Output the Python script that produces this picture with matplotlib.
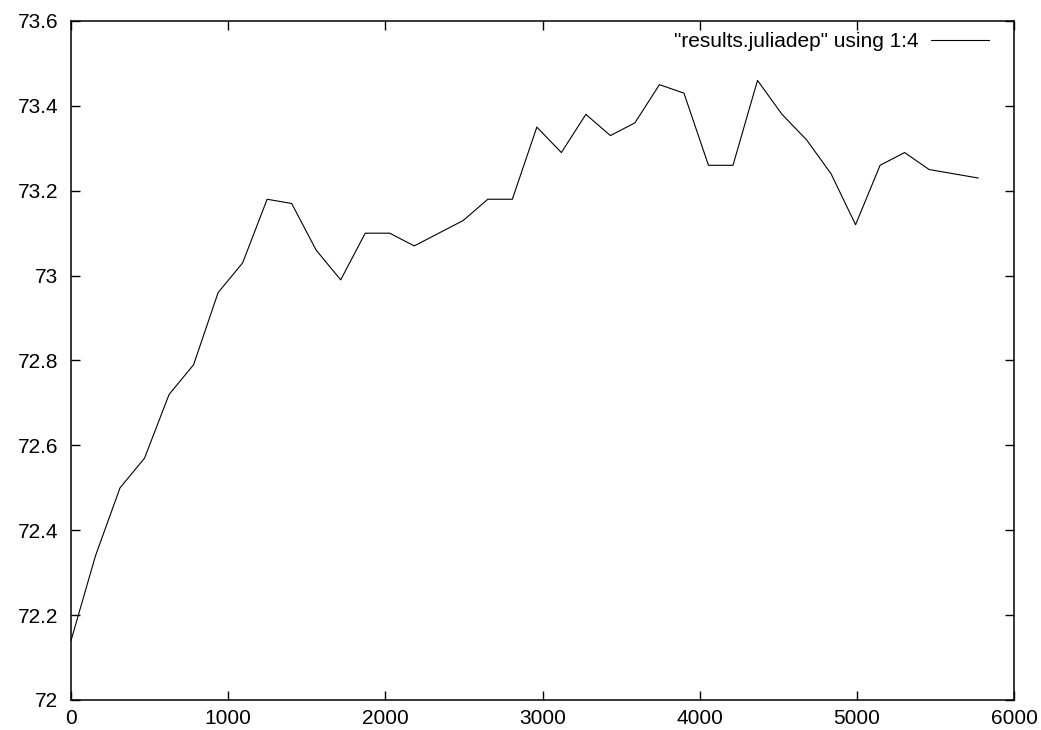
import matplotlib
matplotlib.use("Agg")
import matplotlib.pyplot as plt

# Column 1 (iteration) and column 4 (score) of results.juliadep
iterations = [0, 156, 312, 468, 624, 780, 936, 1092, 1248, 1404, 1560, 1716,
              1872, 2028, 2184, 2340, 2496, 2652, 2808, 2964, 3120, 3276,
              3432, 3588, 3744, 3900, 4056, 4212, 4368, 4524, 4680, 4836,
              4992, 5148, 5304, 5460, 5772]
scores = [72.14, 72.34, 72.50, 72.57, 72.72, 72.79, 72.96, 73.03, 73.18,
          73.17, 73.06, 72.99, 73.10, 73.10, 73.07, 73.10, 73.13, 73.18,
          73.18, 73.35, 73.29, 73.38, 73.33, 73.36, 73.45, 73.43, 73.26,
          73.26, 73.46, 73.38, 73.32, 73.24, 73.12, 73.26, 73.29, 73.25,
          73.23]
series_label = '"results.juliadep" using 1:4'

x_ticks = [0, 1000, 2000, 3000, 4000, 5000, 6000]
y_ticks = [72, 72.2, 72.4, 72.6, 72.8, 73, 73.2, 73.4, 73.6]
y_tick_labels = ["72", "72.2", "72.4", "72.6", "72.8", "73", "73.2", "73.4", "73.6"]

plt.rcParams["font.family"] = ["Liberation Sans", "DejaVu Sans"]

W, H = 1041, 730
FS = 15
fig = plt.figure(figsize=(W / 100, H / 100), dpi=100)
ax = fig.add_axes([71 / W, 30 / H, (1014 - 71) / W, (700 - 21) / H])

ax.plot(iterations, scores, color="black", linewidth=0.8, label=series_label)

ax.set_xlim(0, 6000)
ax.set_ylim(72, 73.6)
ax.set_xticks(x_ticks)
ax.set_xticklabels([str(t) for t in x_ticks])
ax.set_yticks(y_ticks)
ax.set_yticklabels(y_tick_labels)

for s in ax.spines.values():
    s.set_linewidth(1.1)
    s.set_color("black")

ax.tick_params(axis="both", direction="in", length=6.5, width=1.0,
               top=True, right=True, labelsize=FS, colors="black")
ax.tick_params(axis="y", pad=9)
ax.tick_params(axis="x", pad=6.5)

# Key in the upper right: text first, sample line after it
fs_px = FS * 100 / 72
leg = ax.legend(loc="upper right", frameon=False, markerfirst=False,
                fontsize=FS, handlelength=58 / fs_px,
                handletextpad=12 / fs_px, borderpad=0, borderaxespad=0,
                bbox_to_anchor=((989 - 71) / (1014 - 71), (700 - 32) / (700 - 21)))

fig.savefig("out.png", dpi=100)
